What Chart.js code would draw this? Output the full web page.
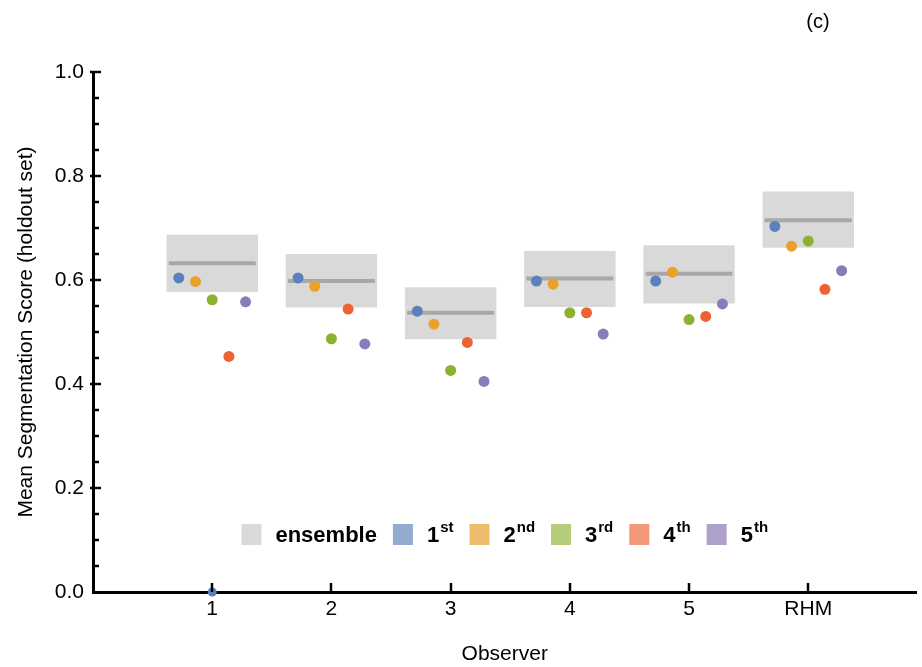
<!DOCTYPE html>
<html><head><meta charset="utf-8">
<script src="https://cdn.jsdelivr.net/npm/chart.js@4.4.0/dist/chart.umd.min.js"></script>
<style>html,body{margin:0;padding:0;background:#fff;} canvas{display:block;}</style>
</head><body>
<canvas id="c" width="922" height="667"></canvas>
<script>
// ---- data ----
const categories = ['1', '2', '3', '4', '5', 'RHM'];
const categoryPos = [1, 2, 3, 4, 5, 6];
const ensembleLow  = [0.577, 0.547, 0.486, 0.548, 0.555, 0.662];
const ensembleHigh = [0.687, 0.650, 0.586, 0.656, 0.667, 0.770];
const ensembleMean = [0.632, 0.598, 0.537, 0.603, 0.612, 0.715];
const first  = [0.604, 0.604, 0.540, 0.598, 0.598, 0.703];
const second = [0.597, 0.588, 0.515, 0.592, 0.615, 0.665];
const third  = [0.562, 0.487, 0.426, 0.537, 0.524, 0.675];
const fourth = [0.453, 0.544, 0.480, 0.537, 0.530, 0.582];
const fifth  = [0.558, 0.477, 0.405, 0.496, 0.554, 0.618];
const strayFirst = [0];           // blue point sitting on the axis at observer 1
const strayFirstPos = [1];
const yTickValues = [0, 0.2, 0.4, 0.6, 0.8, 1.0];
const legendLabels = ['ensemble', '1', '2', '3', '4', '5'];
const legendSups = ['', 'st', 'nd', 'rd', 'th', 'th'];
const panelLabel = '(c)';
const xTitle = 'Observer';
const yTitle = 'Mean Segmentation Score (holdout set)';

// ---- styles ----
const seriesValues = [first, second, third, fourth, fifth];
const seriesOffsets = [-0.28, -0.14, 0, 0.14, 0.28];
const pointColors = ['#5b80bd', '#e9a129', '#8db131', '#ec6234', '#8b7bbb'];
const legendColors = ['#d9d9d9', '#93abd0', '#edbd6b', '#b5cc78', '#f3977b', '#ada1cb'];
const FONT = '"Liberation Sans", Arial, sans-serif';

const datasets = [];
datasets.push({
  type: 'bar',
  label: 'ensemble',
  data: categoryPos.map((x, i) => ({x: x, y: [ensembleLow[i], ensembleHigh[i]]})),
  backgroundColor: '#d9d9d9',
  borderWidth: 0,
  barPercentage: 0.767,
  categoryPercentage: 1,
  order: 10
});
const meanLine = [];
categoryPos.forEach((x, i) => {
  meanLine.push({x: x - 0.365, y: ensembleMean[i]});
  meanLine.push({x: x + 0.365, y: ensembleMean[i]});
  meanLine.push({x: x + 0.5, y: null});
});
datasets.push({
  type: 'line',
  label: 'mean',
  data: meanLine,
  borderColor: '#a8a8a8',
  borderWidth: 4,
  pointRadius: 0,
  spanGaps: false,
  fill: false,
  order: 9
});
seriesValues.forEach((vals, s) => {
  datasets.push({
    type: 'scatter',
    label: 's' + s,
    data: categoryPos.map((x, i) => ({x: x + seriesOffsets[s], y: vals[i]})),
    backgroundColor: pointColors[s],
    borderColor: pointColors[s],
    borderWidth: 0,
    pointRadius: 5.5,
    pointHoverRadius: 5.5,
    order: 5 - s
  });
});
datasets.push({
  type: 'scatter',
  label: 'stray',
  data: strayFirstPos.map((x, i) => ({x: x, y: strayFirst[i]})),
  backgroundColor: pointColors[0],
  borderWidth: 0,
  pointRadius: 4.5,
  clip: false,
  order: 0
});

const PAD_LEFT = 0, AREA_LEFT = 93, AREA_TOP = 72, AREA_BOTTOM = 592, H = 667;

const customDraw = {
  id: 'customDraw',
  afterDraw(chart) {
    const ctx = chart.ctx;
    const xs = chart.scales.x, ys = chart.scales.y;
    const area = chart.chartArea;
    ctx.save();
    // inward ticks on y axis
    ctx.strokeStyle = '#000';
    ctx.lineWidth = 2.5;
    for (let k = 1; k <= 20; k++) {
      const v = k * 0.05;
      const py = Math.round(ys.getPixelForValue(v));
      const major = (k % 4 === 0);
      ctx.beginPath();
      ctx.moveTo(area.left - (major ? 3 : 0), py);
      ctx.lineTo(area.left + (major ? 8 : 6), py);
      ctx.stroke();
    }
    // inward ticks on x axis
    categoryPos.forEach(x => {
      const px = Math.round(xs.getPixelForValue(x));
      ctx.beginPath();
      ctx.moveTo(px, area.bottom);
      ctx.lineTo(px, area.bottom - 9);
      ctx.stroke();
    });
    // legend
    const mainFont = 'bold 22px ' + FONT;
    const supFont = 'bold 15px ' + FONT;
    const sw = 20, sh = 21, gapSwText = 14, gapItem = 16;
    const widths = legendLabels.map((l, i) => {
      ctx.font = mainFont; let w = ctx.measureText(l).width;
      if (legendSups[i]) { ctx.font = supFont; w += ctx.measureText(legendSups[i]).width + 1; }
      return w;
    });
    let total = 0;
    widths.forEach((w, i) => { total += sw + gapSwText + w + (i < widths.length - 1 ? gapItem : 0); });
    let lx = (area.left + area.right) / 2 - total / 2;
    const cy = 534.5;
    ctx.textBaseline = 'alphabetic';
    ctx.textAlign = 'left';
    legendLabels.forEach((l, i) => {
      ctx.fillStyle = legendColors[i];
      ctx.fillRect(lx, cy - sh / 2, sw, sh);
      lx += sw + gapSwText;
      ctx.fillStyle = '#000';
      ctx.font = mainFont;
      ctx.fillText(l, lx, cy + 7);
      const tw = ctx.measureText(l).width;
      if (legendSups[i]) {
        ctx.font = supFont;
        ctx.fillText(legendSups[i], lx + tw + 1, cy - 3);
      }
      lx += widths[i] + gapItem;
    });
    // panel label
    ctx.font = '20px ' + FONT;
    ctx.textAlign = 'center';
    ctx.textBaseline = 'middle';
    ctx.fillStyle = '#000';
    ctx.fillText(panelLabel, 818, 22);
    ctx.restore();
  }
};

new Chart(document.getElementById('c'), {
  type: 'scatter',
  data: {datasets},
  options: {
    responsive: false,
    animation: false,
    devicePixelRatio: 1,
    layout: {padding: {left: PAD_LEFT, top: AREA_TOP, right: 0, bottom: 0}},
    plugins: {legend: {display: false}, tooltip: {enabled: false}, title: {display: false}},
    scales: {
      x: {
        type: 'linear',
        min: 0,
        max: 6.908,
        offset: false,
        z: 1,
        afterBuildTicks: (s) => { s.ticks = categoryPos.map(v => ({value: v})); },
        afterFit: (s) => { s.height = H - AREA_BOTTOM; },
        grid: {display: false, drawTicks: false},
        border: {display: true, color: '#000', width: 3},
        ticks: {
          padding: 5,
          color: '#000',
          font: {family: FONT, size: 21},
          maxRotation: 0,
          autoSkip: false,
          callback: (v) => { const i = categoryPos.indexOf(v); return i >= 0 ? categories[i] : ''; }
        },
        title: {display: true, text: xTitle, color: '#000', font: {family: FONT, size: 21}, padding: {top: 0, bottom: 0}}
      },
      y: {
        type: 'linear',
        min: 0,
        max: 1,
        afterBuildTicks: (s) => { s.ticks = yTickValues.map(v => ({value: v})); },
        afterFit: (s) => { s.width = AREA_LEFT - PAD_LEFT; },
        grid: {display: false, drawTicks: false},
        border: {display: true, color: '#000', width: 3},
        ticks: {
          padding: 9,
          color: '#000',
          font: {family: FONT, size: 21},
          callback: (v) => v.toFixed(1)
        },
        title: {display: true, text: yTitle, color: '#000', font: {family: FONT, size: 21}, padding: {top: 14, bottom: 0}}
      }
    }
  },
  plugins: [customDraw]
});
</script>
</body></html>
